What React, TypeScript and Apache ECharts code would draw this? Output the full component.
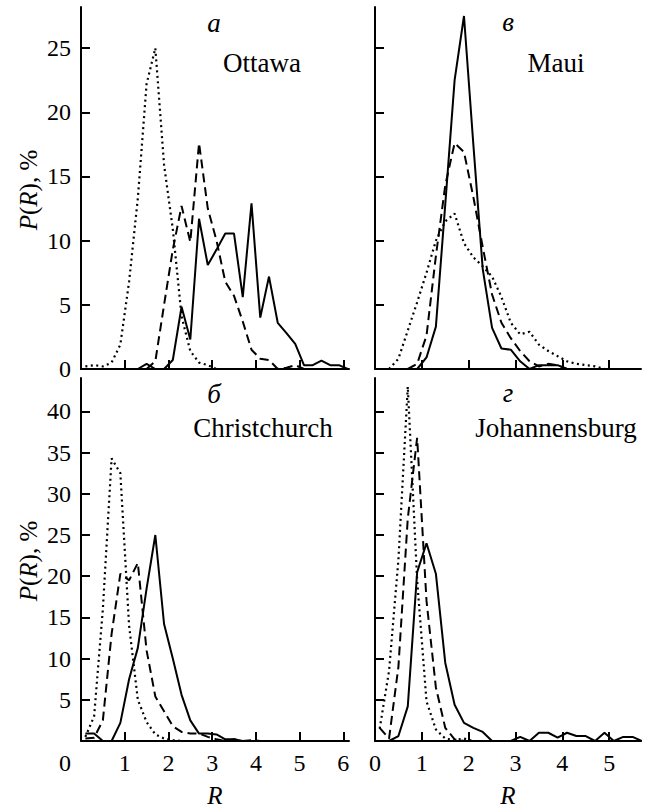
import React, { useEffect, useRef } from 'react';
import * as echarts from 'echarts';

// ---- data: [R, P(R) %] ----
// Panel а: Ottawa
const ottawaSolid: number[][] = [[1.3,0],[1.5,0.4],[1.7,0],[1.9,0],[2.1,0.7],[2.3,4.85],[2.5,2.3],[2.7,11.7],[2.9,8.1],[3.1,9.3],[3.3,10.55],[3.5,10.55],[3.7,5.6],[3.9,12.9],[4.1,4.0],[4.3,7.2],[4.5,3.6],[4.7,2.8],[4.9,1.95],[5.1,0.3],[5.3,0.3],[5.5,0.65],[5.7,0.3],[5.9,0.3],[6.1,0]];
const ottawaDashed: number[][] = [[1.5,0],[1.7,0.6],[1.9,5],[2.1,9.3],[2.3,12.7],[2.5,9.9],[2.7,17.6],[2.9,12.5],[3.1,10.0],[3.3,6.8],[3.5,5.7],[3.7,3.7],[3.9,1.5],[4.1,0.8],[4.3,0.7],[4.5,0],[4.7,0.1],[4.9,0.3],[5.1,0]];
const ottawaDotted: number[][] = [[0.1,0.2],[0.3,0.3],[0.5,0.2],[0.7,0.5],[0.9,1.9],[1.1,6.8],[1.3,13.3],[1.5,22.2],[1.7,25],[1.9,15.9],[2.1,10.9],[2.3,4.1],[2.5,1.4],[2.7,0.5],[2.9,0.3],[3.1,0]];
// Panel в: Maui
const mauiSolid: number[][] = [[0.9,0],[1.1,0.9],[1.3,3.3],[1.5,12.8],[1.7,22.5],[1.9,27.5],[2.1,17.5],[2.3,7.8],[2.5,3.2],[2.7,1.6],[2.9,1.5],[3.1,0.6],[3.3,0],[3.5,0.3],[3.7,0.3],[3.9,0.3],[4.1,0]];
const mauiDashed: number[][] = [[0.7,0],[0.9,0.4],[1.1,2.6],[1.3,8.8],[1.5,14.3],[1.7,17.6],[1.9,16.9],[2.1,13.4],[2.3,9.5],[2.5,5.8],[2.7,3.6],[2.9,2.4],[3.1,1.4],[3.3,0.6],[3.5,0.2],[3.7,0.4],[3.9,0.3],[4.1,0]];
const mauiDotted: number[][] = [[0.3,0],[0.5,0.8],[0.7,3.0],[0.9,5.2],[1.1,7.5],[1.3,10.0],[1.5,11.5],[1.7,12.1],[1.9,9.8],[2.1,8.7],[2.3,8.0],[2.5,7.2],[2.7,5.6],[2.9,3.6],[3.1,2.7],[3.3,2.9],[3.5,1.9],[3.7,1.4],[3.9,1.0],[4.1,0.6],[4.3,0.4],[4.5,0.3],[4.7,0.2],[4.9,0]];
// Panel б: Christchurch
const christSolid: number[][] = [[0.1,0.9],[0.3,0.9],[0.5,0],[0.7,0],[0.9,2.2],[1.1,7.5],[1.3,11.3],[1.5,18.5],[1.7,25],[1.9,14.2],[2.1,10],[2.3,5.6],[2.5,2.5],[2.7,0.9],[2.9,0.9],[3.1,0.8],[3.3,0.2],[3.5,0.2],[3.7,0]];
const christDashed: number[][] = [[0.1,0.3],[0.3,0.4],[0.5,2.5],[0.7,13],[0.9,20.3],[1.1,19.5],[1.3,21.6],[1.5,11],[1.7,5.4],[1.9,3.6],[2.1,1.8],[2.3,1.1],[2.5,0.9],[2.7,0.9],[2.9,0.5],[3.1,0.2],[3.3,0],[3.5,0.2],[3.7,0],[3.9,0.1],[4.1,0]];
const christDotted: number[][] = [[0.1,0.5],[0.3,3],[0.5,16],[0.7,34.3],[0.9,32.5],[1.1,14],[1.3,5],[1.5,2.3],[1.7,0.8],[1.9,0.3],[2.1,0.1],[2.3,0]];
// Panel г: Johannensburg
const joburgSolid: number[][] = [[0.3,0],[0.5,0.6],[0.7,4.2],[0.9,20.5],[1.1,24],[1.3,20.3],[1.5,9.5],[1.7,4.4],[1.9,2.2],[2.1,1.6],[2.3,1.1],[2.5,0],[2.7,0],[2.9,0],[3.1,0.5],[3.3,0],[3.5,1.0],[3.7,1.0],[3.9,0.4],[4.1,1.0],[4.3,0.6],[4.5,0.6],[4.7,0],[4.9,1.0],[5.1,0],[5.3,0.5],[5.5,0.5],[5.7,0]];
const joburgDashed: number[][] = [[0.1,1.6],[0.3,0.3],[0.5,9],[0.7,27],[0.9,36.8],[1.1,17],[1.3,6.5],[1.5,1.6],[1.7,0.2],[1.9,0]];
const joburgDotted: number[][] = [[0.1,1.5],[0.3,8.5],[0.5,22],[0.7,43],[0.9,19.5],[1.1,4.8],[1.3,1.4],[1.5,0.3],[1.7,0.1],[1.9,0.3],[2.1,0]];

const panelTitles = ['Ottawa', 'Maui', 'Christchurch', 'Johannensburg'];
const panelLetters = ['а', 'в', 'б', 'г'];
const topYTicks = [5, 10, 15, 20, 25];
const topYLabels = [0, 5, 10, 15, 20, 25];
const bottomYTicks = [5, 10, 15, 20, 25, 30, 35, 40];
const leftXTicks = [1, 2, 3, 4, 5, 6];
const leftXLabels = [0, 1, 2, 3, 4, 5, 6];
const rightXTicks = [1, 2, 3, 4, 5];
const rightXLabels = [0, 1, 2, 3, 4, 5];

const FONT = 'Liberation Serif';

export default function App() {
  const ref = useRef<HTMLDivElement>(null);
  useEffect(() => {
    const chart = echarts.init(ref.current!, null, { renderer: 'svg' });
    const axisLine = { show: true, onZero: false, lineStyle: { color: '#000', width: 2 } };
    const tickStyle = { color: '#000', width: 2 };
    const labelBase = { fontSize: 24, fontFamily: FONT, color: '#000' };

    const grids = [
      { left: 81, top: 7, width: 268, height: 362 },
      { left: 375, top: 7, width: 266, height: 362 },
      { left: 81, top: 378, width: 268, height: 363 },
      { left: 375, top: 378, width: 266, height: 363 },
    ].map((g) => ({ ...g, outerBoundsMode: 'none', containLabel: false, show: false }));

    const xAxes = [0, 1, 2, 3].map((i) => {
      const left = i % 2 === 0;
      const bottom = i >= 2;
      return {
        type: 'value',
        gridIndex: i,
        min: 0,
        max: left ? 6.13 : 5.68,
        axisLine,
        axisTick: { show: true, inside: true, length: 9, lineStyle: tickStyle, customValues: left ? leftXTicks : rightXTicks },
        axisLabel: bottom
          ? {
              show: true,
              ...labelBase,
              margin: 10,
              customValues: left ? leftXLabels : rightXLabels,
              formatter: (v: number) => (left && v === 0 ? '{z|0}' : String(v)),
              rich: { z: { ...labelBase, padding: [0, 32, 0, 0] } },
            }
          : { show: false },
        splitLine: { show: false },
        name: bottom ? 'R' : '',
        nameLocation: 'middle',
        nameGap: 42,
        nameTextStyle: { fontSize: 25, fontStyle: 'italic', fontFamily: FONT, color: '#000' },
      };
    });

    const yAxes = [0, 1, 2, 3].map((i) => {
      const left = i % 2 === 0;
      const top = i < 2;
      return {
        type: 'value',
        gridIndex: i,
        min: 0,
        max: top ? 28.2 : 44.05,
        axisLine,
        axisTick: { show: true, inside: true, length: 9, lineStyle: tickStyle, customValues: top ? topYTicks : bottomYTicks },
        axisLabel: left
          ? { show: true, ...labelBase, margin: 10, customValues: top ? topYLabels : bottomYTicks }
          : { show: false },
        splitLine: { show: false },
      };
    });

    const styles: Record<string, any> = {
      solid: { type: 'solid', width: 2 },
      dashed: { type: [9, 5], width: 2 },
      dotted: { type: [2, 3.5], width: 2.2 },
    };
    const mk = (data: number[][], idx: number, kind: string) => ({
      type: 'line',
      xAxisIndex: idx,
      yAxisIndex: idx,
      data,
      showSymbol: false,
      symbol: 'none',
      silent: true,
      lineStyle: { color: '#000', ...styles[kind] },
    });
    const series = [
      mk(ottawaSolid, 0, 'solid'), mk(ottawaDashed, 0, 'dashed'), mk(ottawaDotted, 0, 'dotted'),
      mk(mauiSolid, 1, 'solid'), mk(mauiDashed, 1, 'dashed'), mk(mauiDotted, 1, 'dotted'),
      mk(christSolid, 2, 'solid'), mk(christDashed, 2, 'dashed'), mk(christDotted, 2, 'dotted'),
      mk(joburgSolid, 3, 'solid'), mk(joburgDashed, 3, 'dashed'), mk(joburgDotted, 3, 'dotted'),
    ];

    const txt = (x: number, y: number, text: string, size: number, italic: boolean) => ({
      type: 'text',
      x,
      y,
      silent: true,
      style: {
        text,
        fontSize: size,
        fontFamily: FONT,
        fontStyle: italic ? 'italic' : 'normal',
        fill: '#000',
        align: 'center',
        textAlign: 'center',
        verticalAlign: 'middle',
        textVerticalAlign: 'middle',
      },
    });
    const titlePos = [[262, 63], [556, 63], [263, 428], [556, 428]];
    const letterPos = [[214, 23], [508, 22], [214, 394], [508, 393]];
    const yName = (cy: number) => ({
      type: 'text',
      x: 28,
      y: cy,
      rotation: Math.PI / 2,
      silent: true,
      style: {
        text: '{i|P}({i|R}), %',
        fontSize: 25,
        fontFamily: FONT,
        fill: '#000',
        align: 'center',
        textAlign: 'center',
        verticalAlign: 'middle',
        textVerticalAlign: 'middle',
        rich: { i: { fontSize: 25, fontFamily: FONT, fontStyle: 'italic', fill: '#000' } },
      },
    });
    const graphic = [
      ...panelTitles.map((t, i) => txt(titlePos[i][0], titlePos[i][1], t, 27, false)),
      ...panelLetters.map((t, i) => txt(letterPos[i][0], letterPos[i][1], t, 27, true)),
      yName(190),
      yName(561),
    ];

    chart.setOption({
      animation: false,
      backgroundColor: '#fff',
      grid: grids,
      xAxis: xAxes,
      yAxis: yAxes,
      series,
      graphic,
    } as any);
    return () => chart.dispose();
  }, []);
  return <div ref={ref} style={{ position: 'absolute', left: 0, top: 0, width: 650, height: 809 }} />;
}
